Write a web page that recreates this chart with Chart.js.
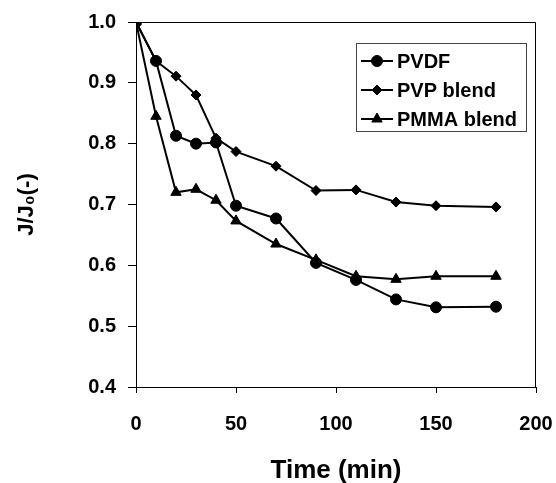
<!DOCTYPE html>
<html>
<head>
<meta charset="utf-8">
<script src="https://cdn.jsdelivr.net/npm/chart.js@4.4.0/dist/chart.umd.min.js"></script>
<style>
  html, body { margin: 0; padding: 0; background: #fff; }
  #wrap { width: 556px; height: 483px; }
</style>
</head>
<body>
<div id="wrap"><canvas id="myChart" width="556" height="483"></canvas></div>
<script>
var times = [0, 10, 20, 30, 40, 50, 70, 90, 110, 130, 150, 180];
var pvdf = [1.0, 0.936, 0.813, 0.800, 0.802, 0.698, 0.677, 0.604, 0.576, 0.544, 0.531, 0.532];
var pvp = [1.0, 0.936, 0.911, 0.880, 0.809, 0.787, 0.763, 0.723, 0.724, 0.704, 0.698, 0.696];
var pmma = [1.0, 0.845, 0.720, 0.725, 0.707, 0.673, 0.635, 0.609, 0.582, 0.577, 0.582, 0.582];
var seriesNames = ["PVDF", "PVP blend", "PMMA blend"];

var FONT = "'Liberation Sans', Arial, sans-serif";

function toXY(vals) {
  var out = [];
  for (var i = 0; i < times.length; i++) {
    out.push({x: times[i], y: vals[i]});
  }
  return out;
}

function makeSet(label, vals, style, r) {
  return {
    label: label,
    data: toXY(vals),
    borderColor: '#000',
    backgroundColor: '#000',
    borderWidth: 2,
    pointStyle: style,
    pointRadius: r,
    pointBorderWidth: 1,
    pointBackgroundColor: '#000',
    pointBorderColor: '#000',
    tension: 0
  };
}

// box round the plot + the legend inside it
var framePlugin = {
  id: 'frame',
  afterDraw: function (chart) {
    var ctx = chart.ctx;
    var a = chart.chartArea;
    ctx.save();
    ctx.strokeStyle = '#000';
    ctx.lineWidth = 1;
    ctx.beginPath();
    ctx.moveTo(a.left, a.top + 0.5);
    ctx.lineTo(a.right - 0.5, a.top + 0.5);
    ctx.lineTo(a.right - 0.5, a.bottom);
    ctx.stroke();

    // legend
    var bx = 356, by = 43, bw = 170, bh = 88;
    ctx.fillStyle = '#fff';
    ctx.fillRect(bx, by, bw, bh);
    ctx.strokeStyle = '#444';
    ctx.strokeRect(bx + 0.5, by + 0.5, bw, bh);
    ctx.font = 'bold 20px ' + FONT;
    ctx.textBaseline = 'middle';
    ctx.textAlign = 'left';
    var rows = [61, 90, 119];
    chart.data.datasets.forEach(function (ds, i) {
      var y = rows[i];
      ctx.strokeStyle = '#000';
      ctx.lineWidth = ds.borderWidth;
      ctx.beginPath();
      ctx.moveTo(361, y);
      ctx.lineTo(393, y);
      ctx.stroke();
      ctx.fillStyle = '#000';
      ctx.lineWidth = 1;
      Chart.helpers.drawPoint(ctx, {pointStyle: ds.pointStyle, radius: ds.pointRadius, rotation: 0, borderWidth: 1}, 377, y);
      ctx.fillStyle = '#000';
      ctx.fillText(ds.label, 397, y + 1);
    });
    ctx.restore();
  }
};

var myChart = new Chart(document.getElementById("myChart"), {
  type: 'line',
  data: {
    datasets: [
      makeSet(seriesNames[0], pvdf, 'circle', 5.5),
      makeSet(seriesNames[1], pvp, 'rectRot', 5),
      makeSet(seriesNames[2], pmma, 'triangle', 6)
    ]
  },
  options: {
    responsive: false,
    animation: false,
    devicePixelRatio: 1,
    layout: { padding: { top: 22, right: 20, left: 0, bottom: 0 } },
    plugins: {
      legend: { display: false },
      tooltip: { enabled: false }
    },
    scales: {
      x: {
        type: 'linear',
        min: 0,
        max: 200,
        ticks: {
          stepSize: 50,
          color: '#000',
          padding: 19,
          font: { family: FONT, size: 20, weight: 'bold' }
        },
        grid: { drawOnChartArea: false, drawTicks: true, tickLength: 6, color: '#000' },
        border: { color: '#000', width: 1 },
        title: {
          display: true,
          text: 'Time (min)',
          color: '#000',
          padding: { top: 0, bottom: -3 },
          font: { family: FONT, size: 26, weight: 'bold' }
        },
        afterFit: function (s) {
          s.height = 96;
          // the "200" label may hang over the edge, don't shrink the plot for it
          s.paddingLeft = 0;
          s.paddingRight = 0;
        }
      },
      y: {
        min: 0.4,
        max: 1.0,
        ticks: {
          stepSize: 0.1,
          color: '#000',
          padding: 12,
          font: { family: FONT, size: 20, weight: 'bold' },
          callback: function (v) { return Number(v).toFixed(1); }
        },
        grid: { drawOnChartArea: false, drawTicks: true, tickLength: 8, color: '#000' },
        border: { color: '#000', width: 1 },
        title: {
          display: true,
          text: 'J/J\u2080(-)',
          color: '#000',
          padding: { top: 14, bottom: 0 },
          font: { family: FONT, size: 22, weight: 'bold' }
        },
        afterFit: function (s) {
          s.width = 136;
          s.paddingTop = 0;
          s.paddingBottom = 0;
        }
      }
    }
  },
  plugins: [framePlugin]
});
</script>
</body>
</html>
